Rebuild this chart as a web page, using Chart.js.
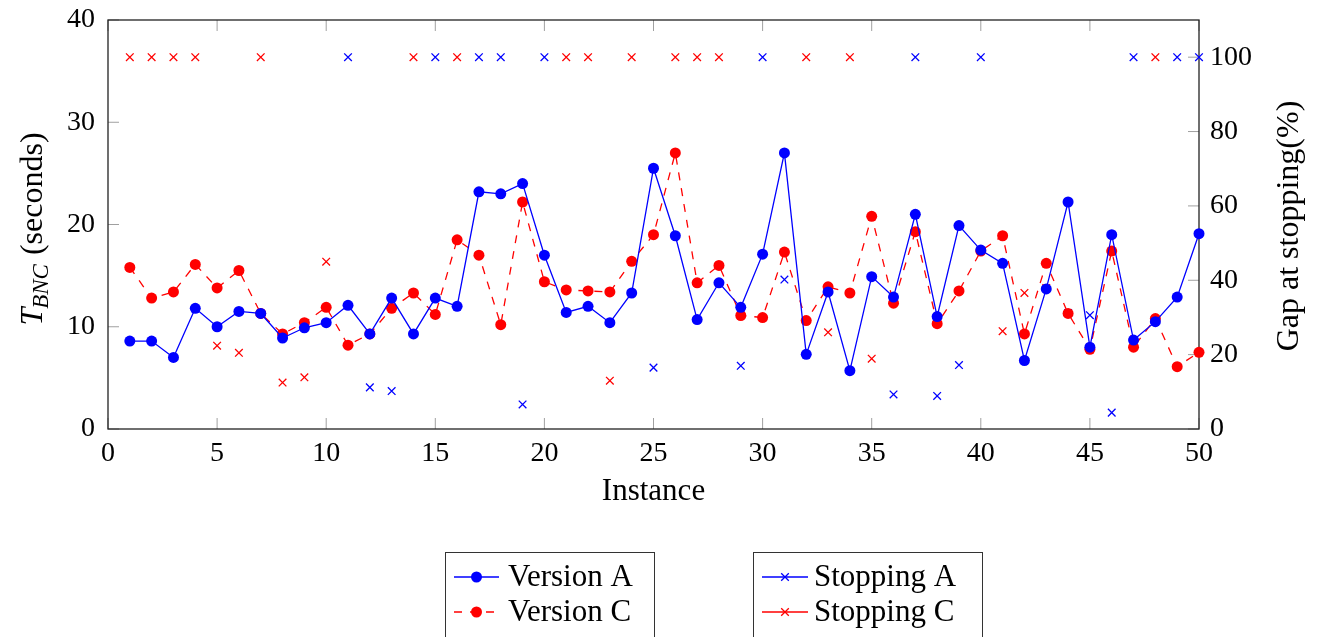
<!DOCTYPE html>
<html>
<head>
<meta charset="utf-8">
<script src="https://cdn.jsdelivr.net/npm/chart.js@4.4.1/dist/chart.umd.min.js"></script>
<style>
  html, body { margin: 0; padding: 0; background: #fff; }
  #wrap { width: 1327px; height: 637px; }
</style>
</head>
<body>
<div id="wrap"><canvas id="plot" width="1327" height="637"></canvas></div>
<script>
// instance numbers on the x axis
const instances = [1, 2, 3, 4, 5, 6, 7, 8, 9, 10, 11, 12, 13, 14, 15, 16, 17, 18, 19, 20,
  21, 22, 23, 24, 25, 26, 27, 28, 29, 30, 31, 32, 33, 34, 35, 36, 37, 38, 39, 40,
  41, 42, 43, 44, 45, 46, 47, 48, 49, 50];

// solve times (seconds), left axis
const versionA = [8.6, 8.6, 7.0, 11.8, 10.0, 11.5, 11.3, 8.9, 9.9, 10.4, 12.1, 9.3, 12.8, 9.3, 12.8, 12.0,
  23.2, 23.0, 24.0, 17.0, 11.4, 12.0, 10.4, 13.3, 25.5, 18.9, 10.7, 14.3, 11.9, 17.1, 27.0, 7.3, 13.4,
  5.7, 14.9, 12.9, 21.0, 11.0, 19.9, 17.5, 16.2, 6.7, 13.7, 22.2, 8.0, 19.0, 8.7, 10.5, 12.9, 19.1];
const versionC = [15.8, 12.8, 13.4, 16.1, 13.8, 15.5, 11.3, 9.3, 10.4, 11.9, 8.2, 9.3, 11.8, 13.3, 11.2, 18.5,
  17.0, 10.2, 22.2, 14.4, 13.6, 13.5, 13.4, 16.4, 19.0, 27.0, 14.3, 16.0, 11.1, 10.9, 17.3, 10.6, 13.9,
  13.3, 20.8, 12.3, 19.3, 10.3, 13.5, 17.4, 18.9, 9.3, 16.2, 11.3, 7.8, 17.4, 8.0, 10.8, 6.1, 7.5];

// gap at stopping (%), right axis; null where the other version stopped
const stoppingA = [null, null, null, null, null, null, null, null, null, null, 100, 11.2, 10.2, null, 100, null,
  100, 100, 6.6, 100, null, null, null, null, 16.5, null, null, null, 17.0, 100, 40.2, null, null,
  null, null, 9.3, 100, 8.9, 17.2, 100, null, null, null, 31.2, 30.6, 4.4, 100, null, 100, 100];
const stoppingC = [100, 100, 100, 100, 22.4, 20.5, 100, 12.5, 13.9, 45.0, null, null, null, 100, null, 100,
  null, null, null, null, 100, 100, 13.0, 100, null, 100, 100, 100, null, null, null, 100, 26.0,
  100, 18.9, null, null, null, null, null, 26.3, 36.6, 37.9, null, null, null, null, 100, null, null];

const xTicks = [0, 5, 10, 15, 20, 25, 30, 35, 40, 45, 50];
const leftTicks = [0, 10, 20, 30, 40];
const rightTicks = [0, 20, 40, 60, 80, 100];

const BLUE = '#0000ff';
const RED = '#ff0000';
const FONT = '"Liberation Serif", "DejaVu Serif", serif';

function pts(values) {
  return instances.map((x, i) => ({ x: x, y: values[i] }));
}

function fixTicks(list) {
  return scale => { scale.ticks = list.map(v => ({ value: v })); };
}

// pin an axis to a set thickness and drop the label overhang padding
function fitTo(prop, size) {
  return s => {
    s[prop] = size;
    s.paddingTop = 0; s.paddingBottom = 0;
    s.paddingLeft = 0; s.paddingRight = 0;
  };
}

function drawMarker(ctx, kind, color, x, y) {
  ctx.save();
  if (kind === 'dot') {
    ctx.fillStyle = color;
    ctx.beginPath();
    ctx.arc(x, y, 5.5, 0, Math.PI * 2);
    ctx.fill();
  } else {
    const d = 3.8;
    ctx.strokeStyle = color;
    ctx.lineWidth = 1.3;
    ctx.beginPath();
    ctx.moveTo(x - d, y - d); ctx.lineTo(x + d, y + d);
    ctx.moveTo(x - d, y + d); ctx.lineTo(x + d, y - d);
    ctx.stroke();
  }
  ctx.restore();
}

// frame, inward ticks, axis titles and the two legend boxes
const axisDecor = {
  id: 'axisDecor',
  beforeDatasetsDraw(chart) {
    const { ctx, chartArea: a, scales } = chart;
    ctx.save();
    ctx.strokeStyle = '#a0a0a0';
    ctx.lineWidth = 1;
    const len = 11;
    ctx.beginPath();
    scales.x.ticks.forEach(t => {
      const px = scales.x.getPixelForValue(t.value);
      ctx.moveTo(px, a.bottom); ctx.lineTo(px, a.bottom - len);
      ctx.moveTo(px, a.top); ctx.lineTo(px, a.top + len);
    });
    scales.y.ticks.forEach(t => {
      const py = scales.y.getPixelForValue(t.value);
      ctx.moveTo(a.left, py); ctx.lineTo(a.left + len, py);
    });
    scales.y1.ticks.forEach(t => {
      const py = scales.y1.getPixelForValue(t.value);
      ctx.moveTo(a.right, py); ctx.lineTo(a.right - len, py);
    });
    ctx.stroke();
    ctx.strokeStyle = '#222';
    ctx.lineWidth = 1.3;
    ctx.strokeRect(a.left, a.top, a.right - a.left, a.bottom - a.top);
    ctx.restore();
  },
  afterDraw(chart) {
    const { ctx, chartArea: a } = chart;
    ctx.save();
    ctx.fillStyle = '#000';

    // x title
    ctx.font = '31px ' + FONT;
    ctx.textAlign = 'center';
    ctx.textBaseline = 'middle';
    ctx.fillText('Instance', (a.left + a.right) / 2, 492);

    // left title with subscript
    ctx.save();
    ctx.translate(42, 229);
    ctx.rotate(-Math.PI / 2);
    ctx.textAlign = 'left';
    ctx.textBaseline = 'alphabetic';
    const fT = 'italic 32px ' + FONT, fSub = 'italic 23px ' + FONT, fRest = '32px ' + FONT;
    ctx.font = fT; const wT = ctx.measureText('T').width;
    ctx.font = fSub; const wS = ctx.measureText('BNC').width;
    ctx.font = fRest; const wR = ctx.measureText(' (seconds)').width;
    let x0 = -(wT + wS + wR) / 2;
    ctx.font = fT; ctx.fillText('T', x0, 0); x0 += wT - 1;
    ctx.font = fSub; ctx.fillText('BNC', x0, 6); x0 += wS + 1;
    ctx.font = fRest; ctx.fillText(' (seconds)', x0, 0);
    ctx.restore();

    // right title
    ctx.save();
    ctx.translate(1298, 226);
    ctx.rotate(-Math.PI / 2);
    ctx.font = '32px ' + FONT;
    ctx.textAlign = 'center';
    ctx.textBaseline = 'alphabetic';
    ctx.fillText('Gap at stopping(%)', 0, 0);
    ctx.restore();

    // legends
    const boxes = [
      { x: 445, w: 209, lx0: 454, lx1: 499, tx: 508, rows: [
        { text: 'Version A', color: BLUE, marker: 'dot', dash: [] },
        { text: 'Version C', color: RED, marker: 'dot', dash: [8, 8] }] },
      { x: 753, w: 229, lx0: 762, lx1: 808, tx: 814, rows: [
        { text: 'Stopping A', color: BLUE, marker: 'cross', dash: [] },
        { text: 'Stopping C', color: RED, marker: 'cross', dash: [] }] }
    ];
    const rowY = [577, 612];
    boxes.forEach(b => {
      ctx.strokeStyle = '#333';
      ctx.lineWidth = 1;
      ctx.strokeRect(b.x + 0.5, 552.5, b.w, 120);
      b.rows.forEach((r, i) => {
        const y = rowY[i];
        ctx.save();
        ctx.strokeStyle = r.color;
        ctx.lineWidth = 1.3;
        ctx.setLineDash(r.dash);
        ctx.beginPath();
        ctx.moveTo(b.lx0, y); ctx.lineTo(b.lx1, y);
        ctx.stroke();
        ctx.restore();
        drawMarker(ctx, r.marker, r.color, (b.lx0 + b.lx1) / 2, y);
        ctx.fillStyle = '#000';
        ctx.font = '31px ' + FONT;
        ctx.textAlign = 'left';
        ctx.textBaseline = 'middle';
        ctx.fillText(r.text, b.tx, y + 1);
      });
    });
    ctx.restore();
  }
};

new Chart(document.getElementById('plot'), {
  type: 'line',
  data: {
    datasets: [
      { label: 'Version A', data: pts(versionA), yAxisID: 'y', borderColor: BLUE, backgroundColor: BLUE,
        borderWidth: 1.3, pointRadius: 5.5, pointBorderWidth: 0, pointBackgroundColor: BLUE, tension: 0, clip: false },
      { label: 'Version C', data: pts(versionC), yAxisID: 'y', borderColor: RED, backgroundColor: RED,
        borderWidth: 1.3, borderDash: [8, 8], pointRadius: 5.5, pointBorderWidth: 0, pointBackgroundColor: RED, tension: 0, clip: false },
      { label: 'Stopping A', data: pts(stoppingA), yAxisID: 'y1', showLine: false, borderColor: BLUE, backgroundColor: BLUE,
        pointStyle: 'crossRot', pointRadius: 5.4, pointBorderWidth: 1.3, clip: false },
      { label: 'Stopping C', data: pts(stoppingC), yAxisID: 'y1', showLine: false, borderColor: RED, backgroundColor: RED,
        pointStyle: 'crossRot', pointRadius: 5.4, pointBorderWidth: 1.3, clip: false }
    ]
  },
  options: {
    responsive: false,
    animation: false,
    devicePixelRatio: 1,
    events: [],
    layout: { padding: { top: 20, left: 0, right: 0, bottom: 0 } },
    plugins: { legend: { display: false }, tooltip: { enabled: false } },
    scales: {
      x: {
        type: 'linear', min: 0, max: 50,
        afterBuildTicks: fixTicks(xTicks),
        afterFit: fitTo('height', 208),
        grid: { display: false, drawTicks: false },
        border: { display: false },
        ticks: { color: '#000', font: { family: FONT, size: 28 }, padding: 8, maxRotation: 0 }
      },
      y: {
        position: 'left', min: 0, max: 40,
        afterBuildTicks: fixTicks(leftTicks),
        afterFit: fitTo('width', 108),
        grid: { display: false, drawTicks: false },
        border: { display: false },
        ticks: { color: '#000', font: { family: FONT, size: 28 }, padding: 13 }
      },
      y1: {
        position: 'right', min: 0, max: 110,
        afterBuildTicks: fixTicks(rightTicks),
        afterFit: fitTo('width', 128),
        grid: { display: false, drawTicks: false },
        border: { display: false },
        ticks: { color: '#000', font: { family: FONT, size: 28 }, padding: 11 }
      }
    }
  },
  plugins: [axisDecor]
});
</script>
</body>
</html>
